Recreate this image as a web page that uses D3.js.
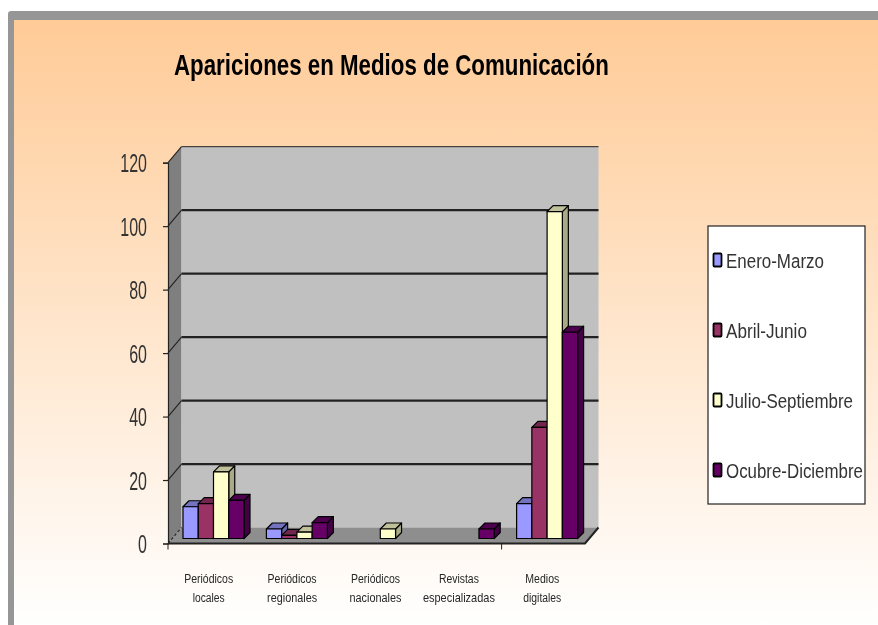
<!DOCTYPE html>
<html><head><meta charset="utf-8">
<script src="https://cdn.jsdelivr.net/npm/d3@7"></script>
<style>html,body{margin:0;padding:0;background:#fff}svg{display:block;filter:blur(0.45px)}
text{font-family:"Liberation Sans",Arial,sans-serif;fill:#262626}</style>
</head><body><svg id="c" width="878" height="625"></svg>
<script>
const title = "Apariciones en Medios de Comunicación";
const categories = ["Periódicos locales","Periódicos regionales","Periódicos nacionales","Revistas especializadas","Medios digitales"];
const categoryLines = [["Periódicos","locales"],["Periódicos","regionales"],["Periódicos","nacionales"],["Revistas","especializadas"],["Medios","digitales"]];
const seriesNames = ["Enero-Marzo","Abril-Junio","Julio-Septiembre","Ocubre-Diciembre"];
const eneroMarzo = [10,3,0,0,11];
const abrilJunio = [11,1,0,0,35];
const julioSeptiembre = [21,2,3,0,103];
const octubreDiciembre = [12,5,0,3,65];
const seriesValues = [eneroMarzo,abrilJunio,julioSeptiembre,octubreDiciembre];
const frontColors = ["#9999FF","#993366","#FFFFCC","#660066"];
const topColors = ["#7373C0","#73264D","#C0C09A","#4D004D"];
const sideColors = ["#6666AA","#662244","#AAAA88","#440044"];
const yTicks = [0,20,40,60,80,100,120];

const svg = d3.select("#c");
const W=878,H=625;
const defs = svg.append("defs");
const g = defs.append("linearGradient").attr("id","bg").attr("x1",0).attr("y1",0).attr("x2",0).attr("y2",1);
g.append("stop").attr("offset",0).attr("stop-color","#FFCB97");
g.append("stop").attr("offset",1).attr("stop-color","#FFFFFF");

// frame
svg.append("rect").attr("x",8).attr("y",11).attr("width",W).attr("height",H).attr("rx",3).attr("fill","#969696");
svg.append("rect").attr("x",14).attr("y",20).attr("width",W).attr("height",H-20).attr("fill","url(#bg)");

// squeeze a text horizontally to a measured width, keeping its real box honest
function fit(sel,len){
  const n = sel.node();
  const k = len / n.getComputedTextLength();
  const x = +sel.attr("x")||0, y = +sel.attr("y")||0;
  sel.attr("x",0).attr("y",0).attr("transform",`translate(${x},${y}) scale(${k},1)`);
  return sel;
}

fit(svg.append("text").attr("x",174).attr("y",75).attr("font-size",29).attr("font-weight","bold").style("fill","#000").text(title),435);

// plot geometry
const left=168,right=585,dx=13.5,dy=-16;
const y = d3.scaleLinear().domain([0,120]).range([543.5,162.7]);
const x0 = d3.scaleBand().domain(categories).range([left,right]);
const x1 = d3.scaleBand().domain(seriesNames).range([15,76]);
const barDx=6,barDy=-6,baseLift=5;

// walls
const pts = a=>a.map(p=>p.join(",")).join(" ");
svg.append("polygon").attr("points",pts([[left,y(120)],[left+dx,y(120)+dy],[left+dx,y(0)+dy],[left,y(0)]])).attr("fill","#7F7F7F");
svg.append("polygon").attr("points",pts([[left+dx,y(120)+dy],[right+dx,y(120)+dy],[right+dx,y(0)+dy],[left+dx,y(0)+dy]])).attr("fill","#C0C0C0");
svg.append("polygon").attr("points",pts([[left,y(0)],[left+dx,y(0)+dy],[right+dx,y(0)+dy],[right,y(0)]])).attr("fill","#8E8E8E");

// gridlines
const grid = svg.append("g").attr("fill","none").attr("stroke","#222");
yTicks.forEach(v=>{
  if(v>0) grid.append("line").attr("x1",left+dx).attr("x2",right+dx).attr("y1",y(v)+dy).attr("y2",y(v)+dy).attr("stroke-width",v===120?1:2.2);
  grid.append("line").attr("x1",left).attr("x2",left+dx).attr("y1",y(v)).attr("y2",y(v)+dy).attr("stroke-width",1.1).attr("stroke-dasharray",v===0?"3,2":null);
});
svg.append("path").attr("d",`M${left},${y(0)}H${right}L${right+dx},${y(0)+dy}`).attr("fill","none").attr("stroke","#222").attr("stroke-width",2);

// bars
const bars = svg.append("g").attr("stroke","#000").attr("stroke-width",1.2).attr("stroke-linejoin","round");
seriesNames.forEach((s,si)=>{
  const vals = seriesValues[si];
  categories.forEach((c,ci)=>{
    const v = vals[ci]; if(!v) return;
    const xa = x0(c)+x1(s), w = x1.bandwidth(), ty = y(v)-baseLift, by = y(0)-baseLift;
    const b = bars.append("g");
    b.append("polygon").attr("points",pts([[xa+w,ty],[xa+w+barDx,ty+barDy],[xa+w+barDx,by+barDy],[xa+w,by]])).attr("fill",sideColors[si]);
    b.append("polygon").attr("points",pts([[xa,ty],[xa+barDx,ty+barDy],[xa+w+barDx,ty+barDy],[xa+w,ty]])).attr("fill",topColors[si]);
    b.append("rect").attr("x",xa).attr("y",ty).attr("width",w).attr("height",by-ty).attr("fill",frontColors[si]);
  });
});

// y axis
const yAxis = svg.append("g").attr("transform",`translate(${left},0)`).call(d3.axisLeft(y).tickValues(yTicks).tickSize(5).tickPadding(16));
yAxis.attr("font-family",null);
yAxis.select(".domain").attr("stroke","#222").attr("stroke-width",1.2);
yAxis.selectAll(".tick line").attr("stroke","#222").attr("stroke-width",1.2);
yAxis.selectAll(".tick text").attr("font-size",25).attr("dy","0.36em").style("fill","#333")
  .each(function(d){ fit(d3.select(this),String(d).length*8.9); });

// x axis: only the first and last tick marks show in the reference
const tickIdx=[0,4];
svg.append("g").selectAll("line").data(tickIdx).join("line")
  .attr("x1",i=>left+i*x0.step()).attr("x2",i=>left+i*x0.step())
  .attr("y1",y(0)).attr("y2",y(0)+6).attr("stroke","#222");
const catWidths=[[49,32],[49,50],[49,52],[40,72],[34,38]];
categories.forEach((c,i)=>{
  categoryLines[i].forEach((l,j)=>{
    fit(svg.append("text").attr("x",x0(c)+x0.bandwidth()/2-1).attr("y",583+j*19).attr("text-anchor","middle").attr("font-size",13.5).text(l),catWidths[i][j]);
  });
});

// legend
svg.append("rect").attr("x",708).attr("y",226).attr("width",157).attr("height",278).attr("fill","#fff").attr("stroke","#222").attr("stroke-width",1.2);
const legY = d3.scalePoint().domain(seriesNames).range([260,470]);
const legW=[98,81,127,137];
seriesNames.forEach((s,i)=>{
  svg.append("rect").attr("x",713.5).attr("y",legY(s)-6.5).attr("width",8).attr("height",13).attr("rx",1).attr("fill",frontColors[i]).attr("stroke","#000").attr("stroke-width",1.8);
  fit(svg.append("text").attr("x",726).attr("y",legY(s)+7.5).attr("font-size",21).style("fill","#333").text(s),legW[i]);
});
</script></body></html>
